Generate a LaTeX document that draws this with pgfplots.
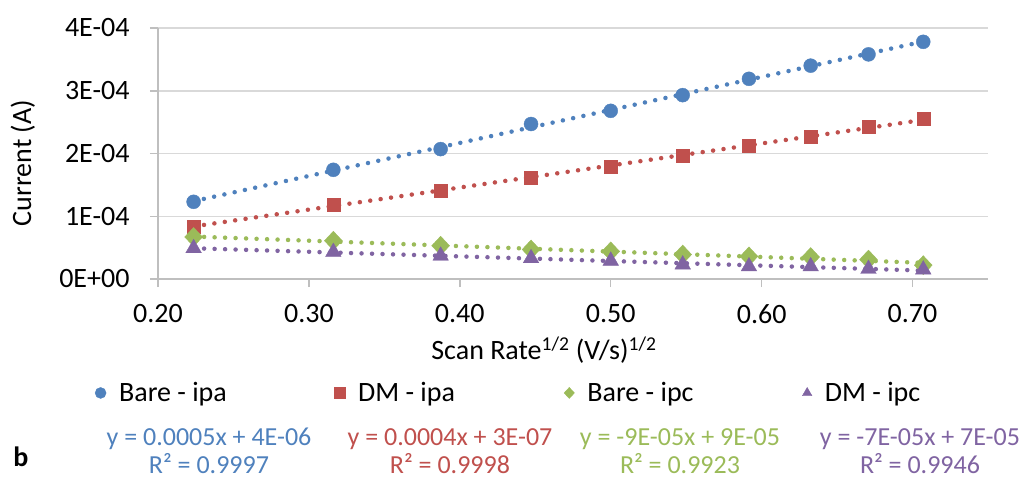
\documentclass[border=0pt]{standalone}
\usepackage{pgfplots}
\usepackage{pgfplotstable}
\pgfplotsset{compat=1.18}
\usepackage{fontspec}
\setmainfont{Carlito}
\definecolor{cblue}{HTML}{4F81BD}
\definecolor{cred}{HTML}{C0504D}
\definecolor{cgreen}{HTML}{9BBB59}
\definecolor{cpurple}{HTML}{8064A2}
\definecolor{cgrid}{HTML}{D9D9D9}
\definecolor{caxis}{HTML}{BFBFBF}

\pgfplotstableread{
x       a        b        c        d
0.2236  1.23e-4  0.84e-4  0.67e-4  0.49e-4
0.3162  1.74e-4  1.19e-4  0.61e-4  0.43e-4
0.3873  2.07e-4  1.40e-4  0.53e-4  0.37e-4
0.4472  2.47e-4  1.62e-4  0.47e-4  0.33e-4
0.5000  2.68e-4  1.79e-4  0.44e-4  0.29e-4
0.5477  2.93e-4  1.96e-4  0.39e-4  0.23e-4
0.5916  3.19e-4  2.13e-4  0.36e-4  0.20e-4
0.6325  3.40e-4  2.26e-4  0.35e-4  0.20e-4
0.6708  3.58e-4  2.43e-4  0.31e-4  0.16e-4
0.7071  3.78e-4  2.55e-4  0.22e-4  0.15e-4
}\data

\newcommand{\bigf}{\fontsize{28bp}{31bp}\selectfont}
\newcommand{\eqf}{\fontsize{26bp}{28bp}\selectfont}

\begin{document}
\begin{tikzpicture}
\useasboundingbox (0bp,0bp) rectangle (1026bp,-481bp);
\begin{axis}[
  at={(158bp,-279bp)}, anchor=south west,
  scale only axis, width=830bp, height=251bp,
  xmin=0.2, xmax=0.75, ymin=0, ymax=4e-4,
  axis x line*=bottom, axis y line*=left,
  axis line style={draw=caxis, line width=1.5bp, -},
  tick align=outside, major tick length=8bp,
  tick style={draw=caxis, line width=1.5bp},
  ymajorgrids, grid style={draw=cgrid, line width=1.5bp},
  scaled ticks=false,
  xtick={0.2,0.3,0.4,0.5,0.6,0.7},
  xticklabels={0.20,0.30,0.40,0.50,0.60,0.70},
  ytick={0,1e-4,2e-4,3e-4,4e-4},
  yticklabels={0E+00,1E-04,2E-04,3E-04,4E-04},
  ticklabel style={font=\bigf, text=black},
  xticklabel style={yshift=-14bp},
  yticklabel style={xshift=-17bp},
  xlabel={Scan Rate\textsuperscript{1/2} (V/s)\textsuperscript{1/2}},
  ylabel={Current (A)},
  label style={font=\bigf},
  xlabel style={at={(axis description cs:0.465,-0.283)}, anchor=center},
  ylabel style={at={(axis description cs:-0.163,0.462)}, anchor=center, rotate=0},
  legend columns=4,
  legend style={draw=none, fill=none, font=\bigf,
    at={(axis description cs:-0.076,-0.454)}, anchor=west,
    inner sep=0pt, nodes={inner sep=1bp},
    /tikz/every odd column/.append style={column sep=12bp}},
  legend cell align=left,
  legend image code/.code={\draw[#1, only marks, mark size=5.5bp] plot coordinates {(0bp,0bp)};},
]
\addplot[cblue, line width=4.5bp, dash pattern=on 0bp off 10.5bp, line cap=round, forget plot]
  table[x=x, y={create col/linear regression={y=a}}]{\data};
\addplot[cred, line width=4.5bp, dash pattern=on 0bp off 10.5bp, line cap=round, forget plot]
  table[x=x, y={create col/linear regression={y=b}}]{\data};
\addplot[cgreen, line width=4.5bp, dash pattern=on 0bp off 10.5bp, line cap=round, forget plot]
  table[x=x, y={create col/linear regression={y=c}}]{\data};
\addplot[cpurple, line width=4.5bp, dash pattern=on 0bp off 10.5bp, line cap=round, forget plot]
  table[x=x, y={create col/linear regression={y=d}}]{\data};

\addplot[only marks, mark=*, color=cblue, mark size=7bp] table[x=x, y=a]{\data};
\addlegendentry{\makebox[214bp][l]{Bare - ipa}}
\addplot[only marks, mark=square*, color=cred, mark size=6.5bp] table[x=x, y=b]{\data};
\addlegendentry{\makebox[205bp][l]{DM - ipa}}
\addplot[only marks, mark=diamond*, color=cgreen, mark size=9.5bp, mark options={xscale=1.25}] table[x=x, y=c]{\data};
\addlegendentry{\makebox[214bp][l]{Bare - ipc}}
\addplot[only marks, mark=triangle*, color=cpurple, mark size=9bp] table[x=x, y=d]{\data};
\addlegendentry{DM - ipc}
\end{axis}

\node[cblue, align=center, font=\eqf] at (209bp,-451bp) {y = 0.0005x + 4E-06\\R² = 0.9997};
\node[cred, align=center, font=\eqf] at (450bp,-451bp) {y = 0.0004x + 3E-07\\R² = 0.9998};
\node[cgreen, align=center, font=\eqf] at (680bp,-451bp) {y = -9E-05x + 9E-05\\R² = 0.9923};
\node[cpurple, align=center, font=\eqf] at (920bp,-451bp) {y = -7E-05x + 7E-05\\R² = 0.9946};
\node[font=\bigf\bfseries] at (21bp,-457bp) {b};
\end{tikzpicture}
\end{document}
